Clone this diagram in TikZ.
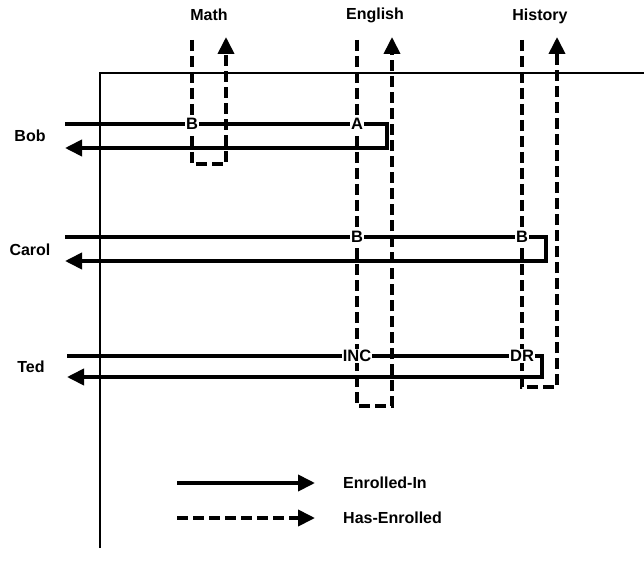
\documentclass[tikz,border=0pt]{standalone}
\usepackage{fontspec}
\setmainfont{Liberation Sans}
\usetikzlibrary{arrows.meta}
\begin{document}
\begin{tikzpicture}[x=1pt,y=-1pt,
  lbl/.style={font=\fontsize{16}{18}\selectfont\bfseries, inner sep=0pt},
  grade/.style={font=\fontsize{16.5}{18}\selectfont\bfseries, fill=white, inner sep=1pt},
  solidln/.style={line width=3.8pt},
  dashln/.style={line width=3.8pt, dash pattern=on 11pt off 5pt},
  axis/.style={line width=2.2pt},
  tip/.style={-{Triangle[length=17pt,width=16pt]}}]
\useasboundingbox (0,0) rectangle (644,561);
% axes
\coordinate (vtop) at (100,73);
\coordinate (vbot) at (100,548);
\coordinate (hright) at (644,73);
\draw[axis] (vbot) -- (vtop) -- (hright);
% column labels
\node[lbl] (math) at (209,15) {Math};
\node[lbl] (eng) at (375,15) {English};
\node[lbl] (hist) at (540,16) {History};
% row labels
\node[lbl] (bob) at (30,136) {Bob};
\node[lbl] (carol) at (30,250) {Carol};
\node[lbl] (ted) at (31,367) {Ted};
% dashed loops (Has-Enrolled)
\coordinate (m1) at (192,40); \coordinate (m2) at (192,164);
\coordinate (m3) at (226,164); \coordinate (m4) at (226,37);
\draw[dashln,tip] (m1) -- (m2) -- (m3) -- (m4);
\coordinate (e1) at (357,40); \coordinate (e2) at (357,406);
\coordinate (e3) at (392,406); \coordinate (e4) at (392,37);
\draw[dashln,tip] (e1) -- (e2) -- (e3) -- (e4);
\coordinate (h1) at (522,40); \coordinate (h2) at (522,387);
\coordinate (h3) at (557,387); \coordinate (h4) at (557,37);
\draw[dashln,tip] (h1) -- (h2) -- (h3) -- (h4);
% grade nodes
\node[grade] (bobB) at (192,124) {B};
\node[grade] (bobA) at (357,124) {A};
\node[grade] (carB1) at (357,237) {B};
\node[grade] (carB2) at (522,237) {B};
\node[grade] (tedI) at (357,356) {INC};
\node[grade] (tedD) at (522,356) {DR};
% Bob
\coordinate (bob0) at (65,124);
\coordinate (bobR) at (387,148);
\coordinate (bobE) at (65,148);
\draw[solidln] (bob0) -- (bobB) -- (bobA);
\draw[solidln,tip] (bobA) -- (bobA -| bobR) -- (bobR) -- (bobE);
% Carol
\coordinate (car0) at (65,237);
\coordinate (carR) at (546,261);
\coordinate (carE) at (65,261);
\draw[solidln] (car0) -- (carB1) -- (carB2);
\draw[solidln,tip] (carB2) -- (carB2 -| carR) -- (carR) -- (carE);
% Ted
\coordinate (ted0) at (67,356);
\coordinate (tedR) at (542,377);
\coordinate (tedE) at (67,377);
\draw[solidln] (ted0) -- (tedI) -- (tedD);
\draw[solidln,tip] (tedD) -- (tedD -| tedR) -- (tedR) -- (tedE);
% legend
\coordinate (l1a) at (177,483); \coordinate (l1b) at (315,483);
\coordinate (l2a) at (177,518); \coordinate (l2b) at (315,518);
\draw[solidln,tip] (l1a) -- (l1b);
\draw[dashln,tip] (l2a) -- (l2b);
\node[lbl,anchor=west] (enr) at (343,483) {Enrolled-In};
\node[lbl,anchor=west] (has) at (343,518) {Has-Enrolled};
\end{tikzpicture}
\end{document}
